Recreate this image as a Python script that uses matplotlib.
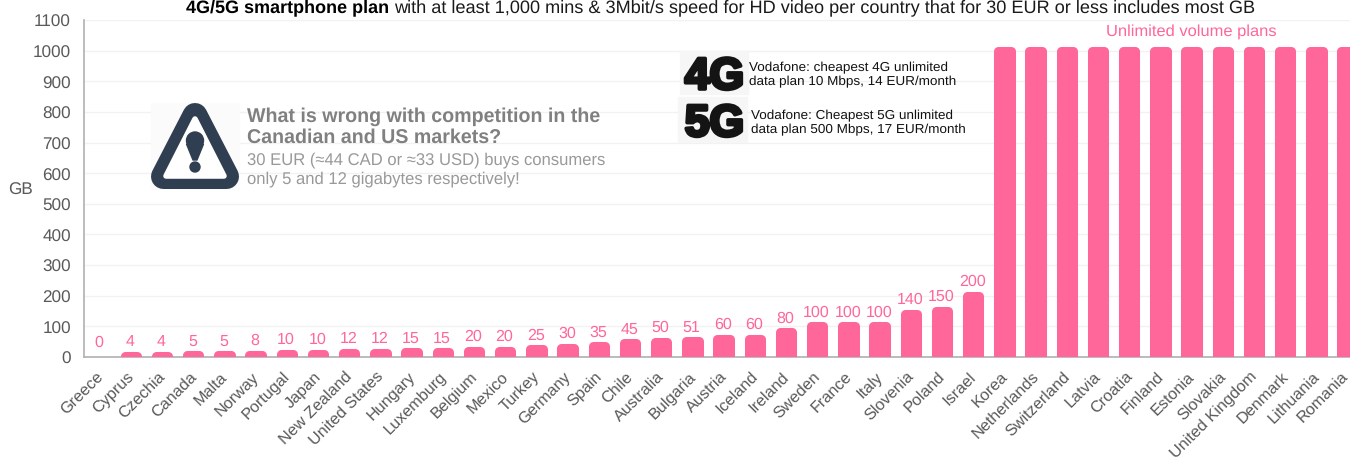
import numpy as np
import matplotlib
matplotlib.use("Agg")
import matplotlib.pyplot as plt
import matplotlib.patheffects as pe
import matplotlib.transforms as mtrans
from matplotlib.patches import Polygon, Rectangle, Circle

plt.rcParams['font.family'] = ['Liberation Sans', 'DejaVu Sans']
plt.rcParams['text.hinting'] = 'no_hinting'

# Data
countries = ["Greece", "Cyprus", "Czechia", "Canada", "Malta", "Norway", "Portugal", "Japan",
             "New Zealand", "United States", "Hungary", "Luxemburg", "Belgium", "Mexico",
             "Turkey", "Germany", "Spain", "Chile", "Australia", "Bulgaria", "Austria",
             "Iceland", "Ireland", "Sweden", "France", "Italy", "Slovenia", "Poland", "Israel",
             "Korea", "Netherlands", "Switzerland", "Latvia", "Croatia", "Finland", "Estonia",
             "Slovakia", "United Kingdom", "Denmark", "Lithuania", "Romania"]
gb_limited = [0, 4, 4, 5, 5, 8, 10, 10, 12, 12, 15, 15, 20, 20, 25, 30, 35, 45, 50, 51,
              60, 60, 80, 100, 100, 100, 140, 150, 200]
gb_unlimited = [1000] * 12
gb_ticks = list(range(0, 1101, 100))

PINK = "#ff6699"
GREY = "#595959"
DARK = "#2f3e50"

values = gb_limited + gb_unlimited
x = np.arange(len(countries))

fig = plt.figure(figsize=(13.5, 4.6), dpi=100)
ax = fig.add_axes([84 / 1350, 1 - 358 / 460, (1350 - 84) / 1350, 337 / 460])

# Thick round stroke gives the rounded corners of the bars
bars = ax.bar(x, values, width=0.4, color=PINK, edgecolor=PINK, linewidth=6.5, zorder=3)
for b, v in zip(bars, values):
    b.set_joinstyle('round')
    if v == 0:
        b.set_linewidth(0)

# Value labels only on the limited plans
for i, v in enumerate(gb_limited):
    ax.annotate(str(v), (x[i], v), xytext=(-0.5, 10.8), textcoords='offset points',
                ha='center', va='center', color=PINK, fontsize=11.5)

ax.set_xlim(-0.5, -0.5 + 1266 / 31.2)
ax.set_ylim(0, 1100)
ax.set_yticks(gb_ticks)
ax.set_xticks(x)
ax.set_xticklabels(countries, rotation=45, ha='right', va='top', rotation_mode='anchor')
ax.tick_params(axis='both', length=0, labelsize=12.3, labelcolor=GREY)
ax.tick_params(axis='x', labelsize=11.7, pad=8)
ax.tick_params(axis='y', pad=9.5)
xlabels = ax.get_xticklabels()
for lab in xlabels:
    # last label needs a little more room at the right edge
    dx = -7 if lab is xlabels[-1] else -4.5
    lab.set_transform(lab.get_transform() + mtrans.ScaledTranslation(dx / 100, 0, fig.dpi_scale_trans))
ax.grid(axis='y', color='#f2f2f2', linewidth=1, zorder=0)
ax.set_axisbelow(True)
for s in ['top', 'right']:
    ax.spines[s].set_visible(False)
for s in ['left', 'bottom']:
    ax.spines[s].set_color('#b0b0b0')
    ax.spines[s].set_linewidth(1.2)

# Overlay in pixel coordinates for title, notes and icons
ov = fig.add_axes([0, 0, 1, 1], zorder=5)
ov.set_xlim(0, 1350)
ov.set_ylim(460, 0)
ov.axis('off')
ov.patch.set_alpha(0)

ov.text(389.5, 7.5, "4G/5G smartphone plan", ha='right', va='center', fontsize=13,
        fontweight='bold', color='black')
ov.text(394, 7.5, "with at least 1,000 mins & 3Mbit/s speed for HD video per country that for 30 EUR or less includes most GB",
        ha='left', va='center', fontsize=13.05, color='#1a1a1a')
ov.text(21, 190, "GB", ha='center', va='center', fontsize=12.3, color=GREY)
ov.text(1191, 32, "Unlimited volume plans", ha='center', va='center', fontsize=11.85, color=PINK)

# Warning icon
ov.add_patch(Rectangle((151, 104), 88, 86, color='#fbfbfb', zorder=1))
ov.add_patch(Polygon([[195, 116.5], [226.5, 177.5], [163.5, 177.5]], closed=True, facecolor=DARK,
                     edgecolor=DARK, linewidth=18, joinstyle='round', zorder=2))
ov.add_patch(Polygon([[195, 120], [224, 177], [166, 177]], closed=True, facecolor='white',
                     edgecolor='white', linewidth=4, joinstyle='round', zorder=3))
ov.add_patch(Polygon([[186.5, 145], [203.5, 145], [197, 161], [193, 161]], closed=True,
                     facecolor=DARK, edgecolor=DARK, linewidth=1, zorder=4))
ov.add_patch(Circle((195, 141.5), 8.5, color=DARK, zorder=4))
ov.add_patch(Circle((195, 168), 5, color=DARK, zorder=4))

ov.text(247, 116.5, "What is wrong with competition in the", ha='left', va='center',
        fontsize=14.15, fontweight='bold', color='#808080')
ov.text(247, 138, "Canadian and US markets?", ha='left', va='center',
        fontsize=14.15, fontweight='bold', color='#808080')
ov.text(247, 160, "30 EUR (≈44 CAD or ≈33 USD) buys consumers", ha='left', va='center',
        fontsize=11.95, color='#999999')
ov.text(247, 179.5, "only 5 and 12 gigabytes respectively!", ha='left', va='center',
        fontsize=11.95, color='#999999')

# 4G / 5G logos
ov.add_patch(Rectangle((680, 52), 68, 43, color='#f6f6f6', zorder=1))
ov.add_patch(Rectangle((678, 98), 69, 45, color='#f6f6f6', zorder=1))
heavy = [pe.withStroke(linewidth=2.6, foreground='#141414')]
ov.text(714.5, 90, "4G", ha='center', va='baseline', fontsize=32, fontweight='bold',
        color='#141414', path_effects=heavy, zorder=2)
ov.text(714.5, 137, "5G", ha='center', va='baseline', fontsize=32, fontweight='bold',
        color='#141414', path_effects=heavy, zorder=2)

ov.text(749, 67.5, "Vodafone: cheapest 4G unlimited", ha='left', va='center', fontsize=9.7, color='#111111')
ov.text(749, 82, "data plan 10 Mbps, 14 EUR/month", ha='left', va='center', fontsize=9.7, color='#111111')
ov.text(751, 115.5, "Vodafone: Cheapest 5G unlimited", ha='left', va='center', fontsize=9.7, color='#111111')
ov.text(751, 130, "data plan 500 Mbps, 17 EUR/month", ha='left', va='center', fontsize=9.7, color='#111111')

fig.savefig("out.png", dpi=100)
